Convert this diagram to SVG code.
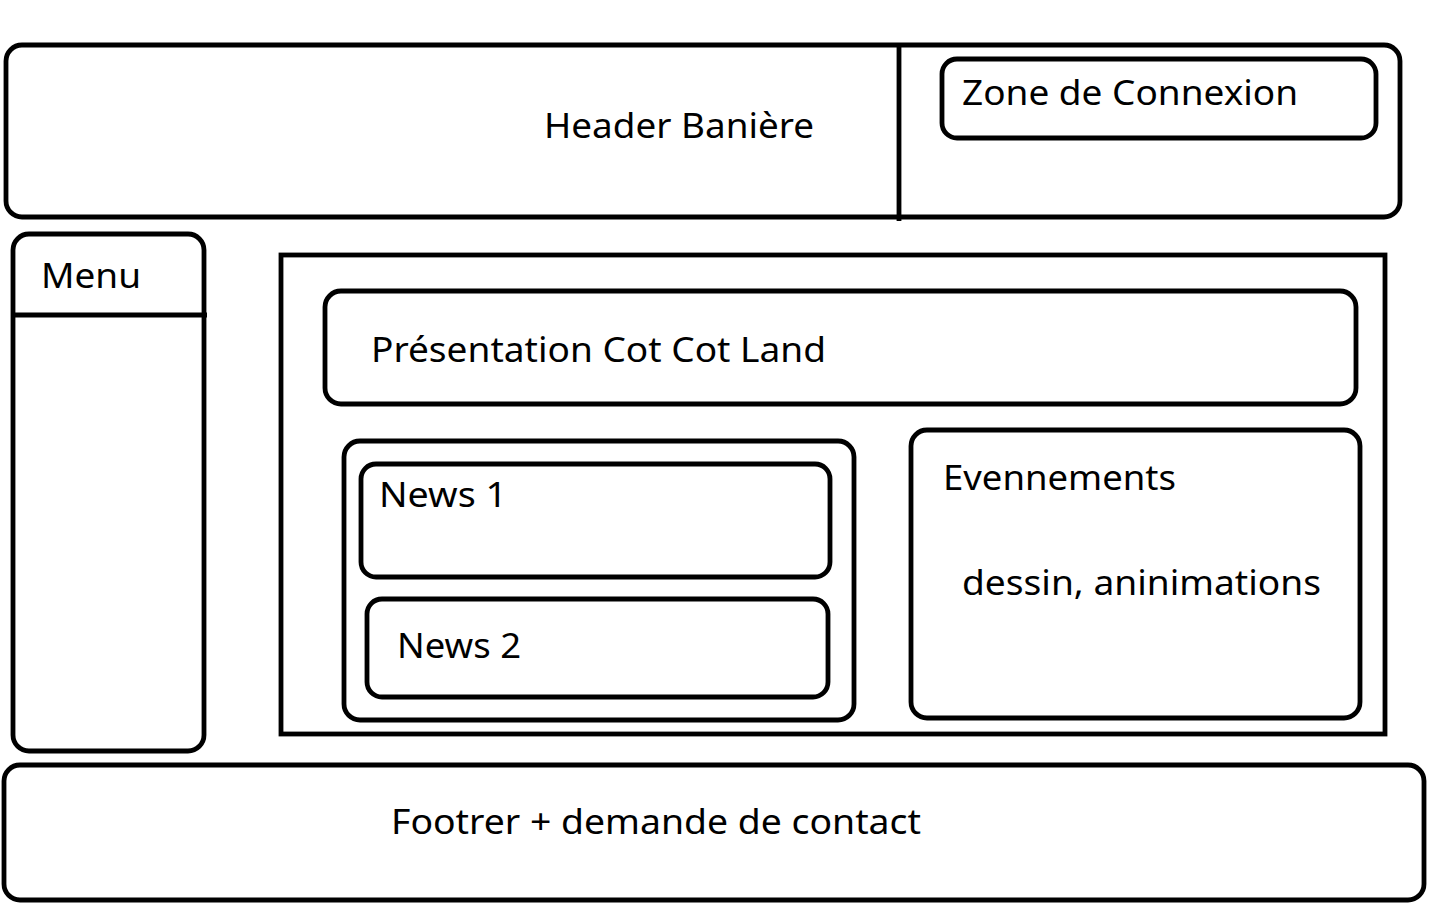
<svg xmlns="http://www.w3.org/2000/svg" width="1436" height="903" viewBox="0 0 1436 903">
<style>
.b{fill:none;stroke:#000;stroke-width:4.8}
.t{font-family:"Noto Sans","Open Sans","DejaVu Sans",sans-serif;font-size:35px;fill:#000}
</style>
<rect width="1436" height="903" fill="#fff"/>
<g id="header">
<rect class="b" x="6" y="45" width="1394" height="172" rx="16"/>
<line class="b" x1="899" y1="45" x2="899" y2="221"/>
<text class="t" x="544" y="138" textLength="270" lengthAdjust="spacingAndGlyphs">Header Banière</text>
</g>
<g id="connexion">
<rect class="b" x="942" y="59" width="434" height="79" rx="15"/>
<text class="t" x="962" y="105" textLength="336" lengthAdjust="spacingAndGlyphs">Zone de Connexion</text>
</g>
<g id="menu">
<rect class="b" x="13" y="234" width="191" height="517" rx="16"/>
<line class="b" x1="13" y1="315" x2="207" y2="315"/>
<text class="t" x="41" y="288" textLength="100" lengthAdjust="spacingAndGlyphs">Menu</text>
</g>
<g id="main">
<rect class="b" x="281" y="255" width="1104" height="479"/>
</g>
<g id="presentation">
<rect class="b" x="325" y="291" width="1031" height="113" rx="16"/>
<text class="t" x="371" y="362" textLength="455" lengthAdjust="spacingAndGlyphs">Présentation Cot Cot Land</text>
</g>
<g id="news">
<rect class="b" x="344" y="441" width="510" height="279" rx="16"/>
</g>
<g id="news1">
<rect class="b" x="361" y="464" width="469" height="113" rx="15"/>
<text class="t" x="379" y="507" textLength="128" lengthAdjust="spacingAndGlyphs">News 1</text>
</g>
<g id="news2">
<rect class="b" x="367" y="599" width="461" height="98" rx="15"/>
<text class="t" x="397" y="658" textLength="124" lengthAdjust="spacingAndGlyphs">News 2</text>
</g>
<g id="evenements">
<rect class="b" x="911" y="430" width="449" height="288" rx="16"/>
<text class="t" x="943" y="490" textLength="233" lengthAdjust="spacingAndGlyphs">Evennements</text>
<text class="t" x="962" y="595" textLength="359" lengthAdjust="spacingAndGlyphs">dessin, aninimations</text>
</g>
<g id="footer">
<rect class="b" x="4" y="765" width="1420" height="135" rx="16"/>
<text class="t" x="391" y="834" textLength="530" lengthAdjust="spacingAndGlyphs">Footrer + demande de contact</text>
</g>
<g id="connectors"></g>
</svg>
